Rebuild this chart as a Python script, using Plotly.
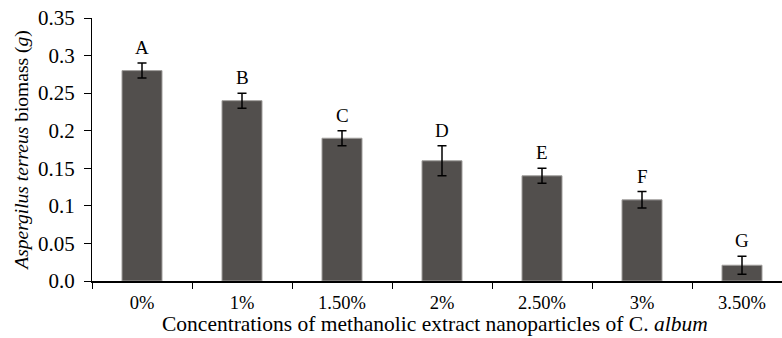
import plotly.graph_objects as go

categories = ["0%", "1%", "1.50%", "2%", "2.50%", "3%", "3.50%"]
biomass = [0.28, 0.24, 0.19, 0.16, 0.14, 0.108, 0.021]
errors = [0.01, 0.01, 0.01, 0.02, 0.01, 0.011, 0.012]
letters = ["A", "B", "C", "D", "E", "F", "G"]
ytick_vals = [0, 0.05, 0.1, 0.15, 0.2, 0.25, 0.3, 0.35]
ytick_text = ["0.0", "0.05", "0.1", "0.15", "0.2", "0.25", "0.3", "0.35"]
x_title = "Concentrations of methanolic extract nanoparticles of C. <i>album</i>"
y_title = "<i>Aspergilus terreus</i> biomass (<i>g</i>)"

FONT = "Liberation Serif"

fig = go.Figure()
fig.add_trace(go.Bar(
    x=categories, y=biomass, width=0.4,
    marker=dict(color="#524f4d", line=dict(color="#a09e9c", width=1)),
    error_y=dict(type="data", array=errors, visible=True, color="black", thickness=1.5, width=4.5),
))

for c, v, e, l in zip(categories, biomass, errors, letters):
    fig.add_annotation(x=c, y=v + e, text=l, showarrow=False, yanchor="bottom", yshift=3,
                       font=dict(family=FONT, size=19, color="black"))

fig.add_annotation(xref="paper", yref="paper", x=0.497, y=-0.165, text=x_title,
                   showarrow=False, xanchor="center", yanchor="middle",
                   font=dict(family=FONT, size=21.5, color="black"))

fig.update_layout(
    width=782, height=338,
    margin=dict(l=92, r=0, t=18, b=57),
    paper_bgcolor="white", plot_bgcolor="white",
    showlegend=False,
    font=dict(family=FONT, size=18, color="black"),
    bargap=0.6,
)
fig.update_xaxes(
    type="category", range=[-0.5, 6.4],
    showline=True, linecolor="black", linewidth=2,
    ticks="outside", tickson="boundaries", ticklen=6, tickcolor="black", tickwidth=1,
    showgrid=False,
    tickfont=dict(family=FONT, size=18.5),
    ticklabelstandoff=4,
)
fig.update_yaxes(
    range=[0, 0.35], tickvals=ytick_vals, ticktext=ytick_text,
    showline=True, linecolor="black", linewidth=1,
    ticks="outside", ticklen=7, tickcolor="black",
    showgrid=False, zeroline=False,
    tickfont=dict(family=FONT, size=21),
    ticklabelstandoff=5,
    title=dict(text=y_title, font=dict(family=FONT, size=19.5), standoff=4),
)

fig.write_html("out.html")
